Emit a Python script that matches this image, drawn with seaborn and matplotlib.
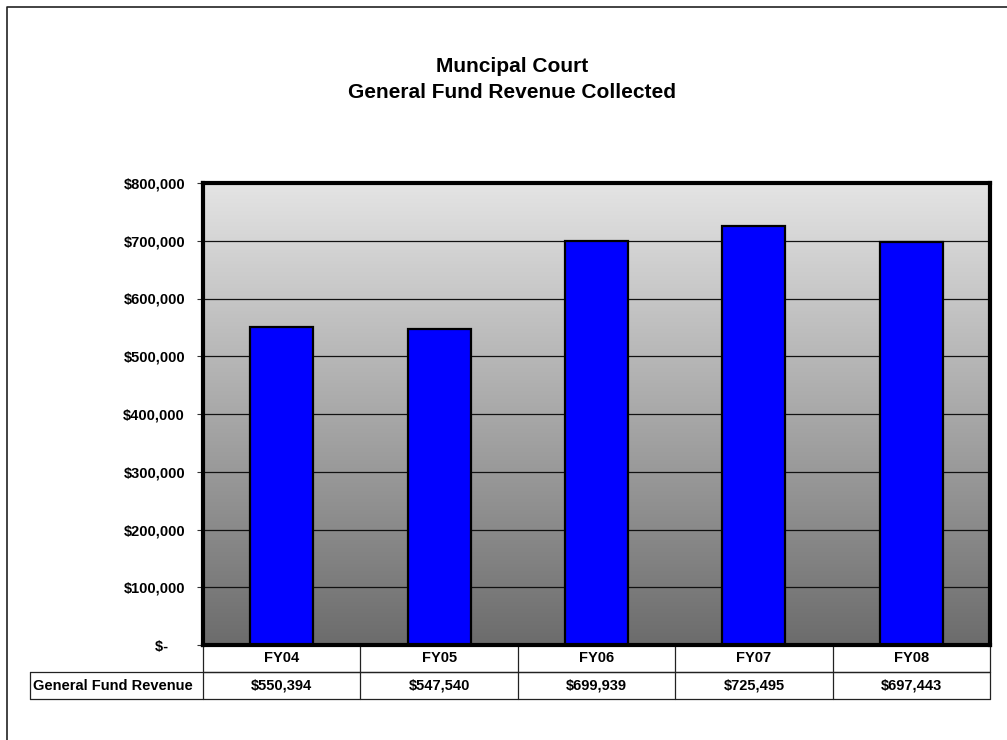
import numpy as np
import pandas as pd
import matplotlib
matplotlib.use("Agg")
import matplotlib.pyplot as plt
import matplotlib.transforms as mtransforms
from matplotlib.lines import Line2D
import seaborn as sns

# Data
years = ["FY04", "FY05", "FY06", "FY07", "FY08"]
revenue = [550394, 547540, 699939, 725495, 697443]
row_label = "General Fund Revenue"
title_lines = ["Muncipal Court", "General Fund Revenue Collected"]
y_ticks = [0, 100000, 200000, 300000, 400000, 500000, 600000, 700000, 800000]

sns.set_style("white")
plt.rcParams["font.family"] = ["Liberation Sans", "DejaVu Sans"]
plt.rcParams["font.weight"] = "bold"
plt.rcParams["text.color"] = "black"
plt.rcParams["ytick.color"] = "black"
plt.rcParams["ytick.labelcolor"] = "black"

df = pd.DataFrame({"year": years, "revenue": revenue})

fig = plt.figure(figsize=(10.07, 7.40), dpi=100)
# axes: plot area in pixels 203..990 x 183..645
W, H = 1007, 740
ax = fig.add_axes([203 / W, 1 - 645 / H, (990 - 203) / W, (645 - 183) / H])

# gradient background
grad = np.linspace(0, 1, 256).reshape(-1, 1)
cmap = matplotlib.colors.LinearSegmentedColormap.from_list("bg", ["#6c6c6c", "#e4e4e4"])
ax.imshow(grad, cmap=cmap, aspect="auto", origin="lower",
          extent=(-0.5, len(years) - 0.5, 0, y_ticks[-1]), zorder=0)

for t in y_ticks[1:-1]:
    ax.axhline(t, color="#111111", lw=0.9, zorder=1)

sns.barplot(data=df, x="year", y="revenue", color="#0000FF", saturation=1,
            edgecolor="black", linewidth=1.6, width=0.4, ax=ax, zorder=2)

ax.set_xlim(-0.5, len(years) - 0.5)
ax.set_ylim(0, y_ticks[-1])
ax.set_yticks(y_ticks)
ax.set_yticklabels([f"${v:,.0f}" if v else "$-    " for v in y_ticks],
                   fontsize=10.5, fontweight="bold", color="black")
ax.set_xticks([])
ax.set_xlabel("")
ax.set_ylabel("")
ax.tick_params(axis="y", left=True, length=4, width=0.8, color="#333333", pad=9)
for s in ax.spines.values():
    s.set_visible(True)
    s.set_color("black")
    s.set_linewidth(3)

# data table below the plot
trans = mtransforms.blended_transform_factory(ax.transData, ax.transAxes)
row_h = 27 / (645 - 183)
x_left = -0.5
x_right = len(years) - 0.5
label_left = -0.5 - (203 - 30) / ((990 - 203) / len(years))
lc = "#222222"
lw = 0.9
# horizontal lines
ax.add_line(Line2D([x_left, x_right], [-row_h, -row_h], transform=trans, color=lc, lw=lw, clip_on=False))
ax.add_line(Line2D([label_left, x_right], [-row_h, -row_h], transform=trans, color=lc, lw=lw, clip_on=False))
ax.add_line(Line2D([label_left, x_right], [-2 * row_h, -2 * row_h], transform=trans, color=lc, lw=lw, clip_on=False))
# vertical lines
for i in range(len(years) + 1):
    xv = i - 0.5
    ax.add_line(Line2D([xv, xv], [0, -2 * row_h], transform=trans, color=lc, lw=lw, clip_on=False))
ax.add_line(Line2D([label_left, label_left], [-row_h, -2 * row_h], transform=trans, color=lc, lw=lw, clip_on=False))

for i, (yr, v) in enumerate(zip(years, revenue)):
    ax.text(i, -0.5 * row_h, yr, transform=trans, ha="center", va="center",
            fontsize=10.5, fontweight="bold", color="black")
    ax.text(i, -1.5 * row_h, f"${v:,.0f}", transform=trans, ha="center", va="center",
            fontsize=10.5, fontweight="bold", color="black")
ax.text(label_left + 0.02, -1.5 * row_h, row_label, transform=trans, ha="left", va="center",
        fontsize=10.5, fontweight="bold", color="black")

# title
fig.text(512 / W, 1 - 66 / H, title_lines[0], ha="center", va="center", fontsize=15, fontweight="bold", color="black")
fig.text(512 / W, 1 - 92 / H, title_lines[1], ha="center", va="center", fontsize=15, fontweight="bold", color="black")

# outer chart border (top and left visible)
fig.add_artist(Line2D([7 / W, 7 / W, 1], [0, 1 - 7 / H, 1 - 7 / H], transform=fig.transFigure,
                      color="#222222", lw=1.2))

fig.savefig("out.png", dpi=100)
